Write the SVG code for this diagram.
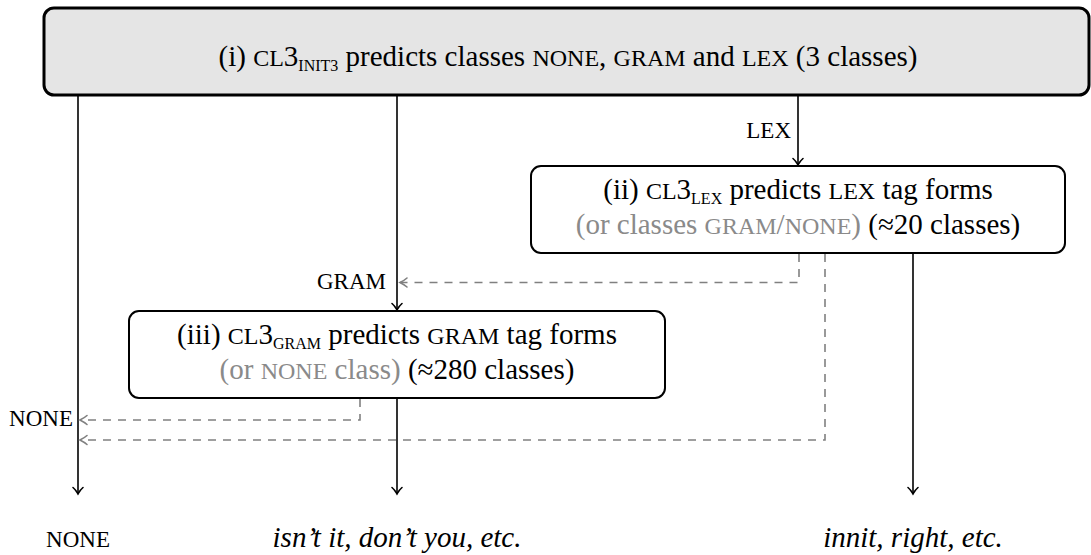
<svg xmlns="http://www.w3.org/2000/svg" width="1091" height="555" viewBox="0 0 1091 555">
<style>
text{font-family:"Liberation Serif","Times New Roman",serif;fill:#000}
.t{font-size:29px}
.sc{font-size:24px}
.sub{font-size:16px}
.g{fill:#8a8a8a}
.it{font-style:italic;font-size:29px}
.lbl{font-size:23px}
.box{fill:#fff;stroke:#000;stroke-width:2}
.top{fill:#e5e5e5;stroke:#000;stroke-width:3}
.s{fill:none;stroke:#000;stroke-width:1.6}
.d{fill:none;stroke:#808080;stroke-width:1.6;stroke-dasharray:8 7}
</style>
<defs>
<marker id="ah" markerUnits="userSpaceOnUse" viewBox="-9 -7 11 14" markerWidth="11" markerHeight="14" refX="0" refY="0" orient="auto" overflow="visible">
<path d="M-6.5,-5 C-4,-2 -1,-0.6 0,0 C-1,0.6 -4,2 -6.5,5" fill="none" stroke="#000" stroke-width="1.6" stroke-linecap="round"/>
</marker>
<marker id="ahg" markerUnits="userSpaceOnUse" viewBox="-9 -7 11 14" markerWidth="11" markerHeight="14" refX="0" refY="0" orient="auto" overflow="visible">
<path d="M-7,-4.5 C-4,-1.8 -1,-0.5 0,0 C-1,0.5 -4,1.8 -7,4.5" fill="none" stroke="#808080" stroke-width="1.6" stroke-linecap="round"/>
</marker>
</defs>

<g id="connectors">
<line class="s" x1="78" y1="95" x2="78" y2="494" marker-end="url(#ah)"/>
<line class="s" x1="397" y1="95" x2="397" y2="310" marker-end="url(#ah)"/>
<line class="s" x1="798" y1="95" x2="798" y2="165" marker-end="url(#ah)"/>
<line class="s" x1="397" y1="398" x2="397" y2="494" marker-end="url(#ah)"/>
<line class="s" x1="913" y1="253" x2="913" y2="494" marker-end="url(#ah)"/>
<polyline class="d" points="799,254 799,282.5 400,282.5" marker-end="url(#ahg)"/>
<polyline class="d" points="825,254 825,440 80,440" marker-end="url(#ahg)"/>
<polyline class="d" points="360,399 360,420 80,420" marker-end="url(#ahg)"/>
<text class="lbl" x="791" y="138" text-anchor="end">LEX</text>
<text class="lbl" x="386" y="289" text-anchor="end">GRAM</text>
<text class="lbl" x="73" y="426" text-anchor="end">NONE</text>
</g>

<g id="node-i">
<rect class="top" x="44" y="8" width="1045" height="87" rx="10"/>
<text class="t" x="568" y="66" text-anchor="middle">(i) <tspan class="sc">CL</tspan>3<tspan class="sub" dy="5">INIT3</tspan><tspan dy="-5"> predicts classes </tspan><tspan class="sc">NONE</tspan>, <tspan class="sc">GRAM</tspan> and <tspan class="sc">LEX</tspan> (3 classes)</text>
</g>

<g id="node-ii">
<rect class="box" x="531" y="166" width="534" height="87" rx="10"/>
<text class="t" x="798" y="199" text-anchor="middle">(ii) <tspan class="sc">CL</tspan>3<tspan class="sub" dy="5">LEX</tspan><tspan dy="-5"> predicts </tspan><tspan class="sc">LEX</tspan> tag forms</text>
<text class="t" x="798" y="234" text-anchor="middle"><tspan class="g">(or classes <tspan class="sc">GRAM</tspan>/<tspan class="sc">NONE</tspan>)</tspan> (≈20 classes)</text>
</g>

<g id="node-iii">
<rect class="box" x="129" y="311" width="536" height="87" rx="10"/>
<text class="t" x="397" y="344" text-anchor="middle">(iii) <tspan class="sc">CL</tspan>3<tspan class="sub" dy="5">GRAM</tspan><tspan dy="-5"> predicts </tspan><tspan class="sc">GRAM</tspan> tag forms</text>
<text class="t" x="397" y="379" text-anchor="middle"><tspan class="g">(or <tspan class="sc">NONE</tspan> class)</tspan> (≈280 classes)</text>
</g>

<g id="out-none">
<text class="lbl" x="78" y="547" text-anchor="middle">NONE</text>
</g>
<g id="out-gram">
<text class="it" x="397" y="547" text-anchor="middle">isn’t it, don’t you, etc.</text>
</g>
<g id="out-lex">
<text class="it" x="913" y="547" text-anchor="middle">innit, right, etc.</text>
</g>
</svg>
